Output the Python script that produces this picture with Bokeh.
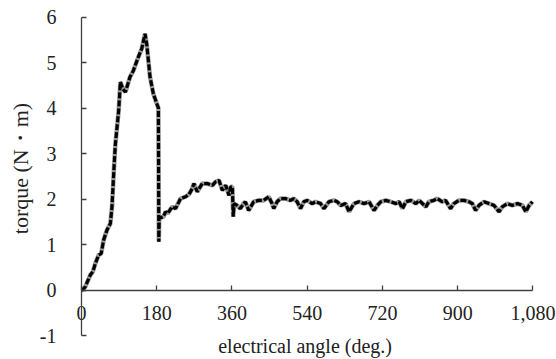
import math
from bokeh.plotting import figure
from bokeh.models import (Range1d, FixedTicker, NumeralTickFormatter, Label,
                          LinearAxis)
from bokeh.embed import file_html
from bokeh.resources import INLINE

# electrical angle (deg.) and torque (N・m)
angle = [0, 2, 9, 21, 27, 33, 41, 47, 53, 61, 69, 73, 77, 81, 89, 93, 99, 105,
         116, 124, 136, 144, 152, 156, 164, 172, 180, 184, 185, 186, 196, 201,
         206, 217, 225, 237, 249, 257, 265, 269, 277, 289, 301, 313, 321, 329,
         337, 345, 353, 357, 361, 363, 365, 372, 380, 388, 392, 400, 412, 424,
         436, 448, 456, 460, 468, 476, 488, 500, 508, 516, 524, 532, 540, 552,
         560, 572, 580, 592, 604, 612, 620, 632, 640, 652, 664, 676, 688, 700,
         708, 716, 728, 740, 752, 760, 768, 776, 788, 800, 808, 816, 824, 831,
         843, 851, 863, 871, 883, 891, 903, 915, 927, 935, 943, 951, 963, 975,
         987, 999, 1007, 1019, 1031, 1043, 1055, 1063, 1071, 1079]
torque = [0.0, 0.0, 0.07, 0.33, 0.40, 0.58, 0.77, 0.80, 1.10, 1.32, 1.46, 1.83,
          2.56, 3.20, 3.95, 4.57, 4.42, 4.35, 4.68, 4.82, 5.12, 5.30, 5.63, 5.41,
          4.68, 4.31, 4.10, 4.00, 1.06, 1.58, 1.61, 1.72, 1.68, 1.83, 1.79, 2.01,
          2.05, 2.10, 2.23, 2.34, 2.16, 2.34, 2.34, 2.30, 2.38, 2.41, 2.19, 2.30,
          2.08, 2.27, 2.27, 1.61, 1.90, 1.86, 1.79, 1.90, 1.94, 1.75, 1.94, 1.97,
          1.97, 2.05, 1.90, 1.79, 1.94, 2.01, 2.01, 1.97, 2.01, 1.94, 1.79, 1.94,
          1.97, 1.90, 1.94, 1.90, 1.79, 1.94, 1.97, 1.94, 1.86, 1.90, 1.72, 1.90,
          1.94, 1.90, 1.94, 1.75, 1.86, 1.94, 1.97, 1.94, 1.90, 1.94, 1.79, 1.94,
          1.97, 1.90, 1.97, 1.90, 1.83, 1.94, 1.97, 2.01, 1.94, 1.97, 1.79, 1.90,
          1.97, 1.97, 1.94, 1.90, 1.75, 1.86, 1.94, 1.90, 1.86, 1.72, 1.83, 1.90,
          1.86, 1.90, 1.86, 1.72, 1.86, 1.94]

x_ticks = [0, 180, 360, 540, 720, 900, 1080]
y_ticks = [-1, 0, 1, 2, 3, 4, 5, 6]
x_title = "electrical angle (deg.)"
y_title = "torque (N\u30fbm)"

FONT = "Liberation Serif"
AXIS_COLOR = "#404040"
TEXT_COLOR = "#222222"

# the frame fills the whole canvas; axes sit at x=0 / y=0 inside it
p = figure(width=556, height=359, output_backend="svg", toolbar_location=None,
           x_range=Range1d(-193.8, 1136.5), y_range=Range1d(-1.527, 6.363),
           x_axis_location=None, y_axis_location=None,
           min_border_left=0, min_border_right=0, min_border_top=0,
           min_border_bottom=0)
p.outline_line_color = None
p.xgrid.visible = False
p.ygrid.visible = False
p.background_fill_color = "white"
p.border_fill_color = "white"

p.line(angle, torque, line_color="#9a9a9a", line_width=4.5)
p.line(angle, torque, line_color="#000000", line_width=3.2, line_dash="6 2")

xa = LinearAxis(fixed_location=0, bounds=(x_ticks[0], x_ticks[-1]),
                ticker=FixedTicker(ticks=x_ticks),
                formatter=NumeralTickFormatter(format="0,0"))
ya = LinearAxis(fixed_location=0, bounds=(y_ticks[0], y_ticks[-1]),
                ticker=FixedTicker(ticks=y_ticks),
                major_label_overrides={-1: "-1"})

for ax in (xa, ya):
    ax.axis_line_color = AXIS_COLOR
    ax.axis_line_width = 1.3
    ax.major_tick_line_color = AXIS_COLOR
    ax.major_tick_line_width = 1.3
    ax.major_tick_in = 5
    ax.major_tick_out = 0
    ax.minor_tick_line_color = None
    ax.major_label_text_font = FONT
    ax.major_label_text_font_size = "20px"
    ax.major_label_text_color = TEXT_COLOR
xa.major_label_standoff = 16
ya.major_label_standoff = 25
p.add_layout(xa, "below")
p.add_layout(ya, "left")

p.add_layout(Label(x=535, y=-1.24, text=x_title, text_font=FONT,
                   text_font_size="20px", text_color=TEXT_COLOR,
                   text_align="center", text_baseline="middle"))
p.add_layout(Label(x=-146, y=2.67, text=y_title, text_font=FONT,
                   text_font_size="22px", text_color=TEXT_COLOR, angle=math.pi / 2,
                   text_align="center", text_baseline="middle"))

open("out.html", "w").write(file_html(p, INLINE))
